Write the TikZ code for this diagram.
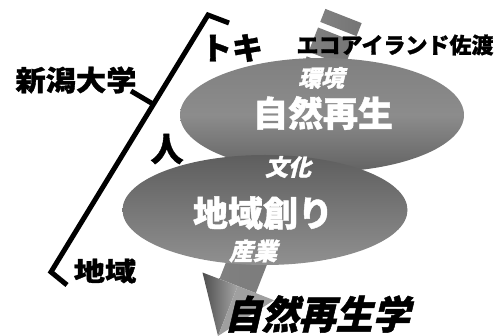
\documentclass[tikz,border=0pt]{standalone}
\usepackage{fontspec}
\usepackage{graphicx}
\newfontfamily\jp{Noto Sans CJK JP}[BoldFeatures={FakeBold=1.2}]
\newfontfamily\jpi{Noto Sans CJK JP}[FakeSlant=0.25,BoldFeatures={FakeBold=1.2}]
\newcommand\fsz[1]{\fontsize{#1}{#1}\selectfont}
\definecolor{arrowgray}{HTML}{6A6A6A}
\definecolor{headdark}{HTML}{4E4E4E}
\definecolor{headlight}{HTML}{A0A0A0}
\definecolor{elltop}{HTML}{808080}
\definecolor{ellmid}{HTML}{8C8C8C}
\definecolor{ellbot}{HTML}{626262}
\definecolor{ell2top}{HTML}{5E5E5E}
\definecolor{ell2bot}{HTML}{909090}
\begin{document}
\begin{tikzpicture}[x=1pt,y=-1pt,
  lbl/.style={inner sep=0pt, text=black},
  wlbl/.style={inner sep=0pt, text=white},
  brk/.style={line width=5pt, draw=black},
  stripe/.style={left color=arrowgray!85, right color=arrowgray!110!black, draw=none}]
\useasboundingbox (0,0) rectangle (495,336);

% arrow tail stripes and shaft
\shade[stripe] (325.35,8.88) -- (361.65,23.12) -- (356.54,36.15) -- (320.24,21.91) -- cycle;
\shade[stripe] (318.05,27.5) -- (354.35,41.74) -- (344.86,65.95) -- (308.56,51.71) -- cycle;
\shade[stripe] (306.74,56.36) -- (343.04,70.6) -- (255.8,293.11) -- (219.5,278.87) -- cycle;
% arrow head
\coordinate (hl) at (202.5,272.5);
\coordinate (hb) at (237.65,285.99);
\coordinate (hr) at (273.96,300.23);
\coordinate (ht) at (218,336);
\shade[left color=headdark, right color=gray!70] (hl) -- (hb) -- (ht) -- cycle;
\shade[left color=gray!75, right color=headlight] (hb) -- (hr) -- (ht) -- cycle;

% ellipses
\shade[top color=elltop, bottom color=ellbot, middle color=ellmid] (322,115) ellipse [x radius=142, y radius=57];
\shade[top color=ell2top, bottom color=ell2bot] (265,210) ellipse [x radius=142.5, y radius=55];

% bracket
\coordinate (bt1) at (229,23);
\coordinate (bt2) at (208,15);
\coordinate (bb1) at (51,272);
\coordinate (bb2) at (67,285);
\coordinate (bm) at (153,104);
\coordinate (bm2) at (131,91);
\draw[brk] (bt1) -- (bt2) -- (bb1) -- (bb2);
\draw[brk] (bm2) -- (bm);

% labels
\node[lbl, font=\jp\bfseries\fsz{28}] (niigata) at (76,80) {\scalebox{1.08}[1]{新潟大学}};
\node[lbl, font=\jp\bfseries\fsz{31}] (toki) at (232,48) {トキ};
\node[lbl, font=\jp\bfseries\fsz{22}] (eco) at (395,45) {エコアイランド佐渡};
\node[lbl, font=\jp\bfseries\fsz{33}] (hito) at (167,149) {人};
\node[lbl, font=\jp\bfseries\fsz{26}] (chiiki) at (105,271) {\scalebox{1.2}[1]{地域}};
\node[wlbl, font=\jpi\bfseries\fsz{23}] (kankyo) at (321,78) {環境};
\node[wlbl, font=\jp\bfseries\fsz{35}] (shizen) at (323,113) {自然再生};
\node[wlbl, font=\jpi\bfseries\fsz{23}] (bunka) at (288,167) {文化};
\node[wlbl, font=\jp\bfseries\fsz{35}] (chiikizukuri) at (263,213) {地域創り};
\node[wlbl, font=\jpi\bfseries\fsz{24}] (sangyo) at (253,251) {産業};
\node[lbl, font=\jpi\bfseries\fsz{39}] (gaku) at (317,314) {\scalebox{0.95}[1]{自然再生学}};
\end{tikzpicture}
\end{document}
